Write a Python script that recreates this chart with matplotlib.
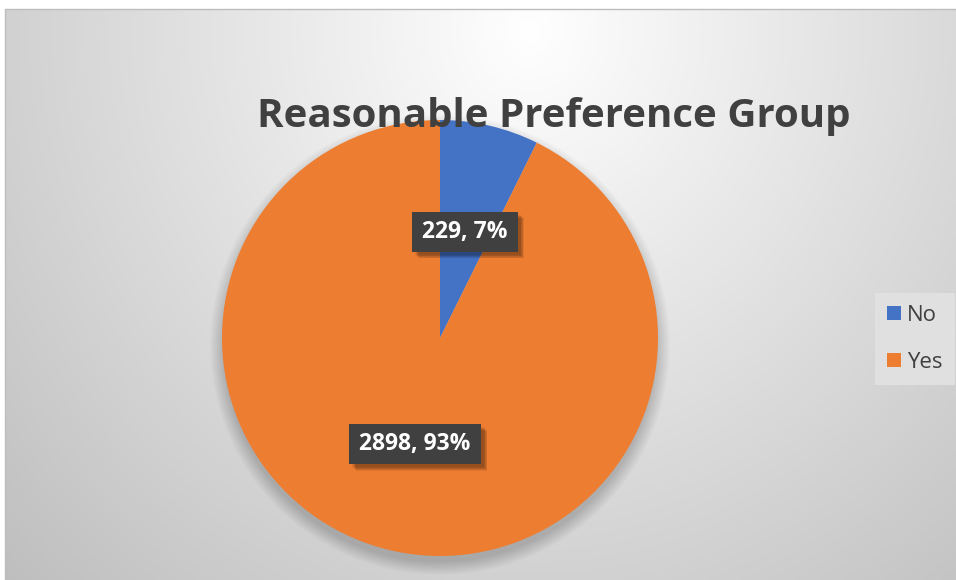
import numpy as np
import matplotlib.pyplot as plt
from matplotlib.patches import Circle, Patch, Rectangle

plt.rcParams['font.family'] = ['Open Sans', 'DejaVu Sans']

labels = ['No', 'Yes']
counts = [229, 2898]
colors = ['#4472C4', '#ED7D31']
title = 'Reasonable Preference Group'

W, H = 956, 580
fig = plt.figure(figsize=(W / 100, H / 100), dpi=100)
ax = fig.add_axes([0, 0, 1, 1])

# chart area background: soft radial gradient, white near top centre
x0, ytop = 5, H - 9
xs = np.linspace(x0, W, 400)
ys = np.linspace(ytop, 0, 250)
X, Y = np.meshgrid(xs, ys)
d = np.sqrt(((X - 530) / 640) ** 2 + ((Y - (H - 30)) / 680) ** 2)
v = np.clip(1 - 0.22 * d, 0, 1)
ax.imshow(np.dstack([v, v, v]), extent=(x0, W, 0, ytop), origin='upper',
          aspect='auto', interpolation='bilinear', zorder=0)
ax.plot([x0, x0, W], [0, ytop, ytop], color='#bdbdbd', lw=1, zorder=1)

# pie with soft shadow (mostly below)
cx, cy, r = 440, H - 338, 218
for i in range(14):
    ax.add_patch(Circle((cx, cy - 7), r + 12 - i, fc='black', ec='none',
                        alpha=0.010, zorder=1))

total = sum(counts)
wedges, _, autotexts = ax.pie(
    counts, colors=colors, startangle=90, counterclock=False,
    center=(cx, cy), radius=r, frame=True, pctdistance=0.5,
    autopct=lambda p: f'{round(p * total / 100)}, {p:.0f}%',
    wedgeprops=dict(linewidth=0))
for w in wedges:
    w.set_zorder(2)
for t in autotexts:
    t.set(color='white', fontsize=16.5, weight='bold', zorder=5)

ax.text(554, H - 127, title, ha='center', va='baseline', fontsize=29,
        weight='bold', color='#404040', zorder=6)

handles = [Patch(fc=c, ec='none') for c in colors]
leg = fig.legend(handles, labels, loc='center left',
                 bbox_to_anchor=(875 / W, 1 - 339 / H), frameon=True,
                 fancybox=False, handlelength=0.6, handleheight=0.6,
                 handletextpad=0.3, labelspacing=1.15, borderpad=0.55,
                 borderaxespad=0, fontsize=16)
leg.get_frame().set(facecolor='#e0e0e0', edgecolor='none', alpha=1)
for t in leg.get_texts():
    t.set_color('#404040')

ax.set_xlim(0, W)
ax.set_ylim(0, H)
ax.axis('off')

# dark label boxes with a soft drop shadow, sized from the rendered text
fig.canvas.draw()
for t in autotexts:
    bb = t.get_window_extent()
    bx, by = bb.x0 - 10, bb.y0 - 8
    bw, bh = bb.width + 20, bb.height + 16
    for k in range(6):
        ax.add_patch(Rectangle((bx + 3 + k * 0.7, by - 3 - k * 0.7), bw, bh,
                               transform=None, fc='black', ec='none',
                               alpha=0.07, zorder=3))
    ax.add_patch(Rectangle((bx, by), bw, bh, transform=None, fc='#404040',
                           ec='none', zorder=4))

fig.savefig('out.png', dpi=100, facecolor='white')
